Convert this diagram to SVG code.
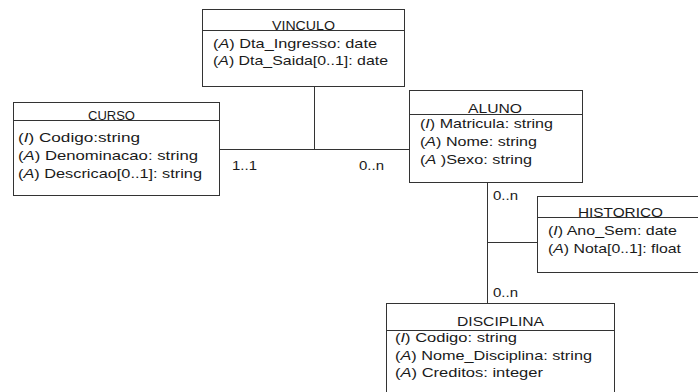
<svg xmlns="http://www.w3.org/2000/svg" width="698" height="392" viewBox="0 0 698 392">
<style>
text{font-family:"Liberation Sans",Arial,sans-serif;font-size:13.5px;fill:#1a1a1a}
.i{font-style:italic}
.box{fill:#fff;stroke:#333;stroke-width:1}
.sep{stroke:#333;stroke-width:1}
.c{stroke:#333;stroke-width:1;fill:none}
</style>
<rect width="698" height="392" fill="#fff"/>
<g id="connectors">
<path class="c" d="M314.5 86V149.5M219 149.5H409M487.5 182V303M487.5 242.5H537"/>
<text x="232" y="170" textLength="25" lengthAdjust="spacingAndGlyphs">1..1</text>
<text x="359" y="170" textLength="25" lengthAdjust="spacingAndGlyphs">0..n</text>
<text x="493" y="200" textLength="25" lengthAdjust="spacingAndGlyphs">0..n</text>
<text x="493" y="297" textLength="25" lengthAdjust="spacingAndGlyphs">0..n</text>
</g>
<g id="vinculo">
<rect class="box" x="202.5" y="9.5" width="202" height="77"/>
<line class="sep" x1="202" y1="30.5" x2="405" y2="30.5"/>
<text x="272" y="29.5" textLength="63" lengthAdjust="spacingAndGlyphs">VINCULO</text>
<text x="213" y="48" textLength="164" lengthAdjust="spacingAndGlyphs">(<tspan class="i">A</tspan>) Dta_Ingresso: date</text>
<text x="213" y="65" textLength="175" lengthAdjust="spacingAndGlyphs">(<tspan class="i">A</tspan>) Dta_Saida[0..1]: date</text>
</g>
<g id="curso">
<rect class="box" x="13.5" y="102.5" width="206" height="93"/>
<line class="sep" x1="13" y1="120.5" x2="220" y2="120.5"/>
<text x="88" y="119.5" textLength="47" lengthAdjust="spacingAndGlyphs">CURSO</text>
<text x="18" y="141.5" textLength="122" lengthAdjust="spacingAndGlyphs">(<tspan class="i">I</tspan>) Codigo:string</text>
<text x="18" y="159.5" textLength="180" lengthAdjust="spacingAndGlyphs">(<tspan class="i">A</tspan>) Denominacao: string</text>
<text x="18" y="177.5" textLength="184" lengthAdjust="spacingAndGlyphs">(<tspan class="i">A</tspan>) Descricao[0..1]: string</text>
</g>
<g id="aluno">
<rect class="box" x="409.5" y="90.5" width="173" height="92"/>
<line class="sep" x1="409" y1="114.5" x2="583" y2="114.5"/>
<text x="468" y="113" textLength="54" lengthAdjust="spacingAndGlyphs">ALUNO</text>
<text x="420" y="128" textLength="133" lengthAdjust="spacingAndGlyphs">(<tspan class="i">I</tspan>) Matricula: string</text>
<text x="420" y="146" textLength="117" lengthAdjust="spacingAndGlyphs">(<tspan class="i">A</tspan>) Nome: string</text>
<text x="420" y="164" textLength="112" lengthAdjust="spacingAndGlyphs">(<tspan class="i">A</tspan> )Sexo: string</text>
</g>
<g id="historico">
<rect class="box" x="537.5" y="196.5" width="170" height="76"/>
<line class="sep" x1="537" y1="217.5" x2="708" y2="217.5"/>
<text x="578" y="217" textLength="85" lengthAdjust="spacingAndGlyphs">HISTORICO</text>
<text x="548" y="234.5" textLength="129" lengthAdjust="spacingAndGlyphs">(<tspan class="i">I</tspan>) Ano_Sem: date</text>
<text x="548" y="252.5" textLength="133" lengthAdjust="spacingAndGlyphs">(<tspan class="i">A</tspan>) Nota[0..1]: float</text>
</g>
<g id="disciplina">
<rect class="box" x="386.5" y="303.5" width="228" height="100"/>
<line class="sep" x1="386" y1="330.5" x2="615" y2="330.5"/>
<text x="457" y="326" textLength="87" lengthAdjust="spacingAndGlyphs">DISCIPLINA</text>
<text x="395" y="342" textLength="122" lengthAdjust="spacingAndGlyphs">(<tspan class="i">I</tspan>) Codigo: string</text>
<text x="395" y="359.5" textLength="197" lengthAdjust="spacingAndGlyphs">(<tspan class="i">A</tspan>) Nome_Disciplina: string</text>
<text x="395" y="377" textLength="148" lengthAdjust="spacingAndGlyphs">(<tspan class="i">A</tspan>) Creditos: integer</text>
</g>
</svg>
